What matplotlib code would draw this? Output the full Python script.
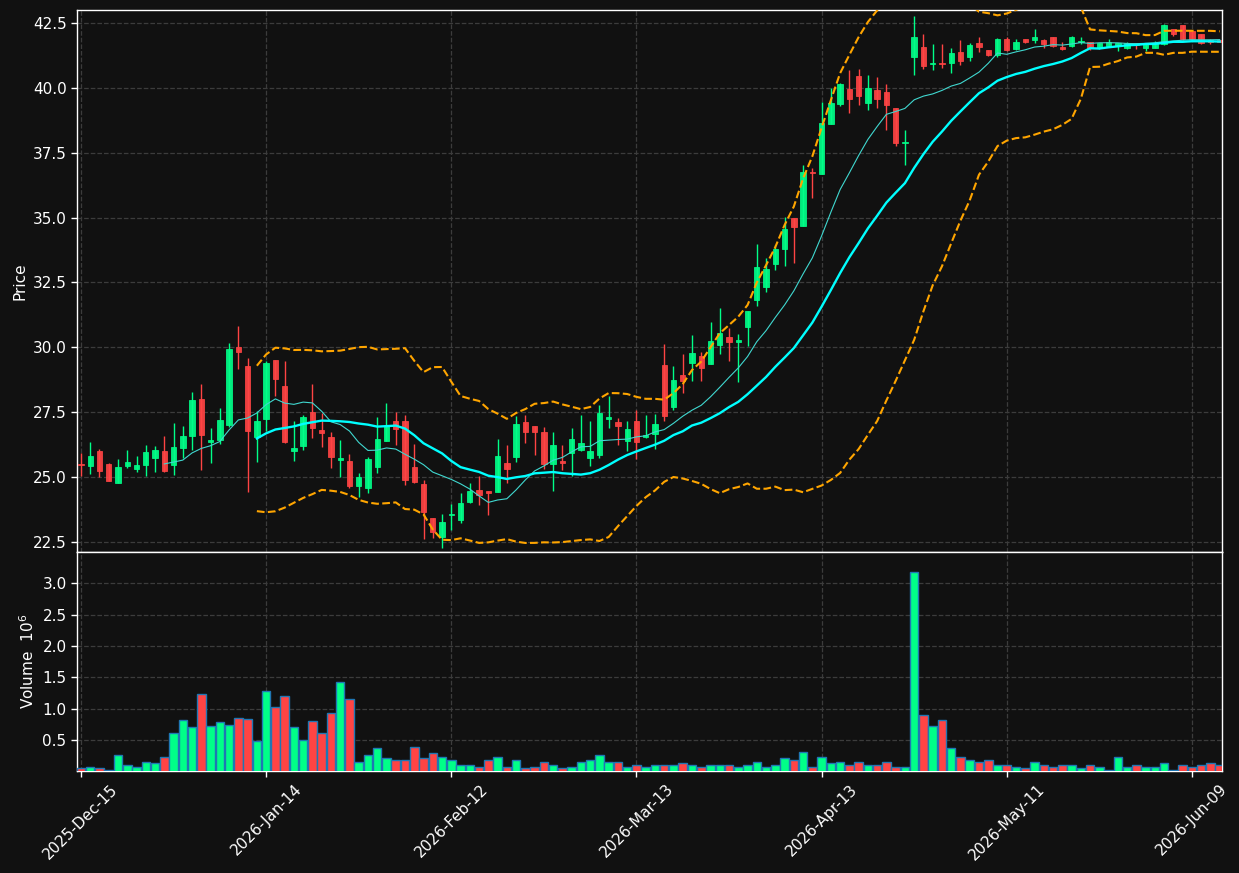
import numpy as np
import pandas as pd
import matplotlib
matplotlib.use("Agg")
import matplotlib.pyplot as plt
from matplotlib.ticker import FixedLocator, FuncFormatter, FormatStrFormatter

# ---------------- data ----------------
holidays = ['2025-12-25', '2026-01-01', '2026-01-19', '2026-02-16', '2026-04-03', '2026-05-25']

opens = [25.51, 25.41, 26.01, 25.51, 24.79, 25.41, 25.33, 25.45, 25.72, 26.01,
         25.45, 26.14, 26.57, 28.02, 26.34, 26.44, 27.02, 30.01, 29.27, 26.53,
         27.25, 29.51, 28.51, 26.02, 26.21, 27.50, 26.81, 26.54, 25.67, 25.62,
         24.67, 24.57, 25.40, 26.40, 27.17, 27.18, 25.38, 24.74, 23.44, 22.69,
         23.53, 23.33, 24.06, 24.51, 24.47, 24.41, 25.55, 25.76, 27.12, 26.96,
         26.75, 25.50, 25.64, 25.93, 26.04, 25.73, 25.85, 27.24, 27.14, 26.39,
         27.18, 26.55, 26.66, 29.32, 27.69, 28.93, 29.41, 29.67, 29.37, 30.10,
         30.40, 30.19, 30.80, 31.84, 32.33, 33.22, 33.78, 35.00, 34.68, 36.77,
         36.68, 38.60, 39.37, 39.94, 40.47, 39.41, 39.90, 39.85, 39.23, 37.88,
         41.18, 41.58, 40.91, 40.97, 40.95, 41.40, 41.18, 41.73, 41.47, 41.26,
         41.87, 41.50, 41.90, 41.85, 41.83, 41.97, 41.56, 41.61, 41.77, 41.78,
         41.55, 41.61, 41.61, 41.55, 41.72, 41.55, 41.52, 41.69, 42.28, 42.41,
         42.19, 42.06, 41.85, 41.85]
highs = [25.93, 26.35, 26.08, 25.54, 25.69, 26.04, 25.82, 26.23, 26.19, 26.58,
         27.08, 26.97, 28.29, 28.58, 26.89, 27.66, 30.15, 30.81, 29.58, 27.55,
         29.49, 29.51, 29.47, 27.17, 27.38, 28.60, 27.49, 26.72, 26.43, 25.91,
         25.14, 25.76, 27.31, 27.85, 27.50, 27.40, 26.27, 24.90, 23.44, 23.58,
         23.97, 24.38, 24.77, 25.06, 24.47, 26.46, 26.23, 27.37, 27.40, 26.96,
         26.95, 26.75, 26.25, 26.91, 27.40, 27.18, 27.78, 28.13, 27.27, 27.16,
         27.59, 27.40, 27.42, 30.13, 29.29, 29.74, 30.49, 29.81, 30.97, 31.51,
         30.76, 30.50, 31.40, 34.00, 33.44, 33.93, 35.04, 35.00, 37.01, 36.92,
         39.45, 40.00, 40.20, 40.68, 40.73, 40.51, 40.42, 40.13, 39.23, 38.37,
         42.78, 42.08, 41.69, 41.69, 41.54, 41.85, 41.73, 41.96, 41.47, 41.91,
         41.97, 41.90, 41.90, 42.28, 41.90, 41.97, 41.78, 41.99, 41.97, 41.78,
         41.74, 41.87, 41.74, 41.75, 41.72, 41.72, 41.81, 42.45, 42.28, 42.41,
         42.19, 42.06, 41.88, 41.86]
lows = [25.03, 25.12, 25.01, 24.86, 24.78, 25.37, 25.18, 25.04, 25.18, 25.20,
        25.10, 25.73, 26.05, 25.27, 25.54, 26.27, 26.92, 29.15, 24.41, 25.57,
        26.79, 28.11, 26.31, 25.63, 26.05, 26.49, 26.18, 25.37, 25.00, 24.57,
        24.22, 24.39, 25.14, 26.40, 26.24, 24.69, 24.77, 22.62, 22.65, 22.27,
        22.98, 23.23, 23.99, 23.94, 23.55, 24.41, 24.79, 25.58, 26.31, 25.86,
        25.30, 24.46, 25.26, 25.04, 26.00, 25.41, 25.75, 26.91, 26.25, 26.02,
        25.71, 26.52, 26.07, 27.16, 27.59, 28.26, 28.71, 28.71, 29.37, 29.73,
        29.49, 28.65, 30.04, 31.58, 32.12, 32.99, 33.12, 33.27, 34.68, 35.77,
        36.68, 38.60, 39.30, 39.04, 39.35, 39.15, 39.23, 38.37, 37.76, 37.01,
        40.49, 40.73, 40.68, 40.76, 40.58, 40.88, 41.03, 41.37, 41.22, 41.19,
        41.42, 41.46, 41.73, 41.74, 41.55, 41.59, 41.46, 41.59, 41.68, 41.46,
        41.51, 41.59, 41.42, 41.51, 41.48, 41.42, 41.52, 41.65, 42.00, 41.85,
        41.87, 41.70, 41.70, 41.75]
closes = [25.46, 25.82, 25.22, 24.87, 25.40, 25.59, 25.48, 25.98, 26.05, 25.22,
          26.17, 26.59, 27.98, 26.61, 26.44, 27.21, 29.94, 29.83, 26.79, 27.16,
          29.40, 28.79, 26.36, 26.12, 27.31, 26.90, 26.71, 25.78, 25.73, 24.67,
          25.00, 25.70, 26.48, 26.97, 26.87, 24.90, 24.83, 23.64, 22.87, 23.28,
          23.58, 24.00, 24.46, 24.33, 24.38, 25.82, 25.31, 27.05, 26.73, 26.73,
          25.49, 26.22, 25.54, 26.46, 26.33, 25.99, 27.46, 27.31, 26.97, 26.87,
          26.37, 26.62, 27.04, 27.36, 28.76, 28.71, 29.78, 29.21, 30.23, 30.54,
          30.19, 30.27, 31.40, 33.10, 33.02, 33.80, 34.58, 34.64, 36.77, 36.72,
          38.65, 39.40, 40.13, 39.56, 39.68, 40.00, 39.56, 39.33, 37.86, 37.91,
          41.96, 40.83, 40.97, 40.91, 41.36, 41.03, 41.67, 41.56, 41.26, 41.88,
          41.46, 41.77, 41.77, 41.97, 41.70, 41.61, 41.50, 41.97, 41.81, 41.55,
          41.72, 41.78, 41.74, 41.72, 41.64, 41.72, 41.72, 42.41, 42.06, 41.87,
          41.90, 41.74, 41.75, 41.77]
volumes_m = [0.05, 0.065, 0.05, 0.03, 0.26, 0.10, 0.065, 0.145, 0.13, 0.24,
             0.61, 0.82, 0.71, 1.23, 0.73, 0.79, 0.74, 0.85, 0.84, 0.49,
             1.29, 1.03, 1.21, 0.71, 0.51, 0.81, 0.61, 0.94, 1.42, 1.16,
             0.16, 0.26, 0.37, 0.21, 0.19, 0.19, 0.39, 0.21, 0.29, 0.24,
             0.18, 0.11, 0.10, 0.065, 0.18, 0.23, 0.08, 0.19, 0.05, 0.065,
             0.16, 0.11, 0.05, 0.065, 0.16, 0.18, 0.27, 0.16, 0.145, 0.08,
             0.11, 0.065, 0.10, 0.11, 0.10, 0.13, 0.10, 0.08, 0.10, 0.10,
             0.10, 0.065, 0.11, 0.16, 0.08, 0.11, 0.21, 0.18, 0.31, 0.08,
             0.23, 0.13, 0.16, 0.10, 0.16, 0.10, 0.10, 0.145, 0.065, 0.08,
             3.18, 0.90, 0.73, 0.82, 0.37, 0.24, 0.19, 0.16, 0.19, 0.10,
             0.11, 0.08, 0.06, 0.16, 0.10, 0.08, 0.11, 0.10, 0.05, 0.11,
             0.065, 0.03, 0.24, 0.065, 0.11, 0.065, 0.065, 0.13, 0.03, 0.10,
             0.08, 0.11, 0.13, 0.11]
price_ticks = [22.5, 25.0, 27.5, 30.0, 32.5, 35.0, 37.5, 40.0, 42.5]
volume_ticks = [0.5, 1.0, 1.5, 2.0, 2.5, 3.0]

# ---------------- derived ----------------
dates = pd.bdate_range('2025-12-15', periods=len(closes), freq='C', holidays=holidays)
df = pd.DataFrame({'Open': opens, 'High': highs, 'Low': lows, 'Close': closes,
                   'Volume': volumes_m}, index=dates)
ma10 = df['Close'].rolling(10).mean()
ma20 = df['Close'].rolling(20).mean()
sd20 = df['Close'].rolling(20).std()
bb_up = ma20 + 2 * sd20
bb_lo = ma20 - 2 * sd20

BG = '#111111'
UP = '#00ff88'
DOWN = '#ff4444'
GRID = '#3c3c3c'

x = np.arange(len(df))
up = df['Close'].values >= df['Open'].values
cols = [UP if u else DOWN for u in up]

W, H = 1239, 873
fig = plt.figure(figsize=(W / 100, H / 100), dpi=100, facecolor=BG)
L, R = 77, 1222
ax = fig.add_axes([L / W, 1 - 552 / H, (R - L) / W, 542 / H])
axv = fig.add_axes([L / W, 1 - 771 / H, (R - L) / W, 219 / H], sharex=ax)

for a in (ax, axv):
    a.set_facecolor(BG)
    a.grid(True, linestyle='--', color=GRID, linewidth=0.9)
    a.set_axisbelow(True)
    for s in a.spines.values():
        s.set_color('white')
        s.set_linewidth(1.0)
    a.tick_params(colors='white', labelsize=11, length=4, width=1)

# candles
ax.vlines(x, df['Low'], df['High'], colors=cols, linewidth=1.0, zorder=2)
body_lo = np.minimum(df['Open'].values, df['Close'].values)
body_h = np.abs(df['Close'].values - df['Open'].values)
ax.bar(x, body_h, bottom=body_lo, width=0.58, color=cols, edgecolor=cols,
       linewidth=0.6, zorder=3, alpha=0.92)

# moving averages & bands
ax.plot(x, ma10, color='#40d8d0', linewidth=0.8, zorder=4)
ax.plot(x, ma20, color='#00ffff', linewidth=1.7, zorder=4)
ax.plot(x, bb_up, color='#ffa500', linewidth=1.5, linestyle='--', zorder=4)
ax.plot(x, bb_lo, color='#ffa500', linewidth=1.5, linestyle='--', zorder=4)

ax.set_ylim(22.115, 43.0)
ax.yaxis.set_major_locator(FixedLocator(price_ticks))
ax.yaxis.set_major_formatter(FormatStrFormatter('%.1f'))
ax.set_ylabel('Price', color='white', fontsize=11)
ax.tick_params(axis='x', which='both', bottom=False, labelbottom=False)

# volume
vmin = min(volumes_m)
vmax = max(volumes_m)
axv.bar(x, df['Volume'], width=0.92, color=cols, edgecolor='#1f77b4', linewidth=1.0, zorder=3)
axv.set_ylim(0.3 * vmin, 1.1 * vmax)
axv.yaxis.set_major_locator(FixedLocator(volume_ticks))
axv.yaxis.set_major_formatter(FormatStrFormatter('%.1f'))
axv.set_ylabel('Volume  $10^{6}$', color='white', fontsize=11)

# x axis
xt = list(range(0, len(df), 20))
axv.xaxis.set_major_locator(FixedLocator(xt))
axv.xaxis.set_major_formatter(FuncFormatter(
    lambda v, p: dates[int(round(v))].strftime('%Y-%b-%d') if 0 <= int(round(v)) < len(dates) else ''))
plt.setp(axv.get_xticklabels(), rotation=45, ha='center')
ax.set_xlim(-0.43, 123.25)

fig.savefig('out.png', dpi=100, facecolor=BG)
